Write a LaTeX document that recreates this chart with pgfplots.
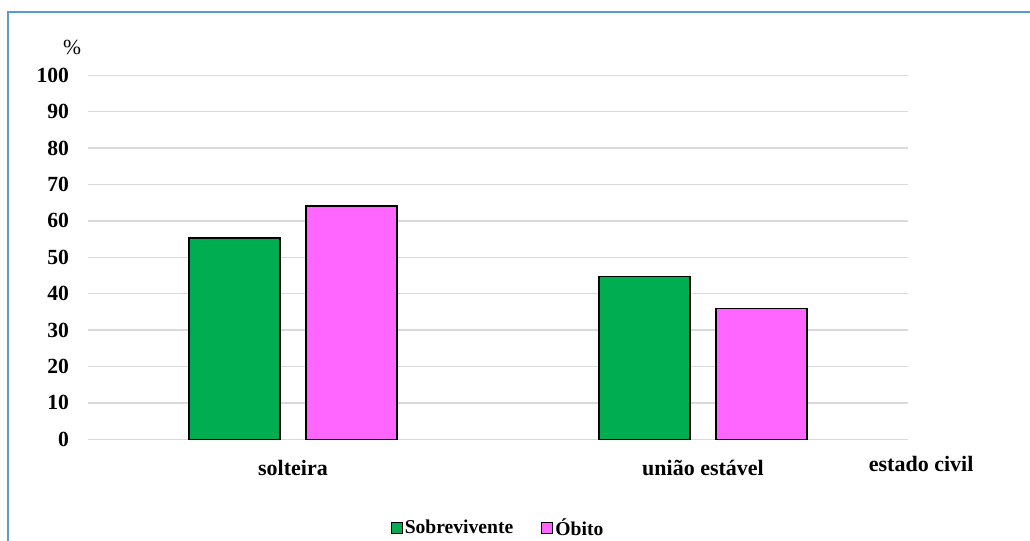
\documentclass[border=0pt]{standalone}
\usepackage{pgfplots}
\pgfplotsset{compat=1.18}
\usepackage{fontspec}
\setmainfont{Liberation Serif}

\definecolor{sobrev}{HTML}{00AD50}
\definecolor{obito}{HTML}{FF66FF}
\definecolor{gridgray}{HTML}{D9D9D9}
\definecolor{framebl}{HTML}{5B9BD5}

\begin{document}
\begin{tikzpicture}
\useasboundingbox (0,0) rectangle (515pt,270.5pt);
% outer frame (top and left edges)
\draw[framebl, line width=1pt] (3.75pt,0pt) -- (3.75pt,264.5pt) -- (515pt,264.5pt);

\begin{axis}[
  at={(44pt,50.85pt)}, anchor=south west,
  scale only axis,
  width=410pt, height=182pt,
  ymin=0, ymax=100,
  xmin=-0.5, xmax=1.5,
  axis line style={draw=none},
  ytick={0,10,...,100},
  ymajorgrids,
  grid style={gridgray, line width=0.7pt},
  major tick length=0pt,
  xtick={0,1},
  xticklabels={solteira, união estável},
  /pgf/number format/assume math mode=true,
  yticklabel style={xshift=-6pt, font=\fontsize{10.8}{12}\selectfont\bfseries},
  xticklabel style={yshift=-7pt, font=\fontsize{11}{12}\selectfont\bfseries},
  clip=false,
  legend style={at={(rel axis cs:0.5,-0.244)}, anchor=center,
    draw=none, font=\fontsize{9.8}{12}\selectfont\bfseries,
    legend columns=2, column sep=0pt,
    nodes={inner sep=1pt},
    /tikz/every even column/.append style={column sep=13pt}},
  legend image code/.code={\draw[#1, line width=0.6pt] (0pt,-2.5pt) rectangle (5.5pt,3pt);},
  legend cell align=left,
]
\draw[gridgray, line width=0.7pt] (rel axis cs:0,0) -- (rel axis cs:1,0);

\addplot[ybar, bar width=0.222, bar shift=-0.1424, fill=sobrev, draw=black, line width=0.65pt]
  coordinates {(0,55.3) (1,44.7)};
\addlegendentry{Sobrevivente}
\addplot[ybar, bar width=0.222, bar shift=0.1424, fill=obito, draw=black, line width=0.65pt]
  coordinates {(0,64.1) (1,35.9)};
\addlegendentry{Óbito}

\node[anchor=center, font=\fontsize{10.8}{12}\selectfont] at (rel axis cs:-0.0195,1.077) {\%};
\node[anchor=center, font=\fontsize{11}{12}\selectfont\bfseries] at (rel axis cs:1.016,-0.068) {estado civil};
\end{axis}
\end{tikzpicture}
\end{document}
